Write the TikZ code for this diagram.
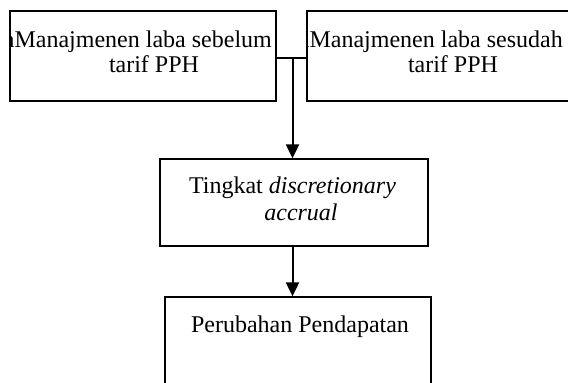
\documentclass[tikz,border=0pt]{standalone}
\usepackage{fontspec}
\setmainfont{Liberation Serif}
\usetikzlibrary{arrows.meta}
\begin{document}
\begin{tikzpicture}[x=1pt,y=-1pt,
  box/.style={draw=black,line width=1.3pt,inner sep=0pt},
  txt/.style={inner sep=0pt,font=\fontsize{24}{25}\selectfont},
  conn/.style={draw=black,line width=2pt},
  arr/.style={conn,-{Triangle[length=14pt,width=13pt]}}]
\useasboundingbox (0,0) rectangle (568,383);
\node[box,minimum width=266pt,minimum height=90pt] (b1) at (143,56) {};
\node[box,minimum width=268pt,minimum height=90pt] (b2) at (441,56) {};
\node[box,minimum width=268pt,minimum height=87pt] (b3) at (294,202.5) {};
\node[box,minimum width=266pt,minimum height=93pt] (b4) at (298,343.5) {};
\begin{scope}
\clip (b1.south west) rectangle (b1.north east);
\node[txt,anchor=base east] (t1a) at (272,47) {aManajmenen laba sebelum};
\end{scope}
\node[txt,anchor=base] (t1b) at (154,72) {tarif PPH};
\begin{scope}
\clip (b2.south west) rectangle (b2.north east);
\node[txt,anchor=base east] (t2a) at (563,47) {aManajmenen laba sesudah};
\end{scope}
\node[txt,anchor=base] (t2b) at (453,72) {tarif PPH};
\node[txt,anchor=base] (t3a) at (292.5,193) {Tingkat \textit{discretionary}};
\node[txt,anchor=base] (t3b) at (301,220) {\textit{accrual}};
\node[txt,anchor=base] (t4) at (300,332) {Perubahan Pendapatan};
\coordinate (j) at (292.5,57.5);
\draw[conn] (b1.east |- j) -- (b2.west |- j);
\draw[arr] (j) -- (j |- b3.north);
\draw[arr] (j |- b3.south) -- (j |- b4.north);
\end{tikzpicture}
\end{document}
